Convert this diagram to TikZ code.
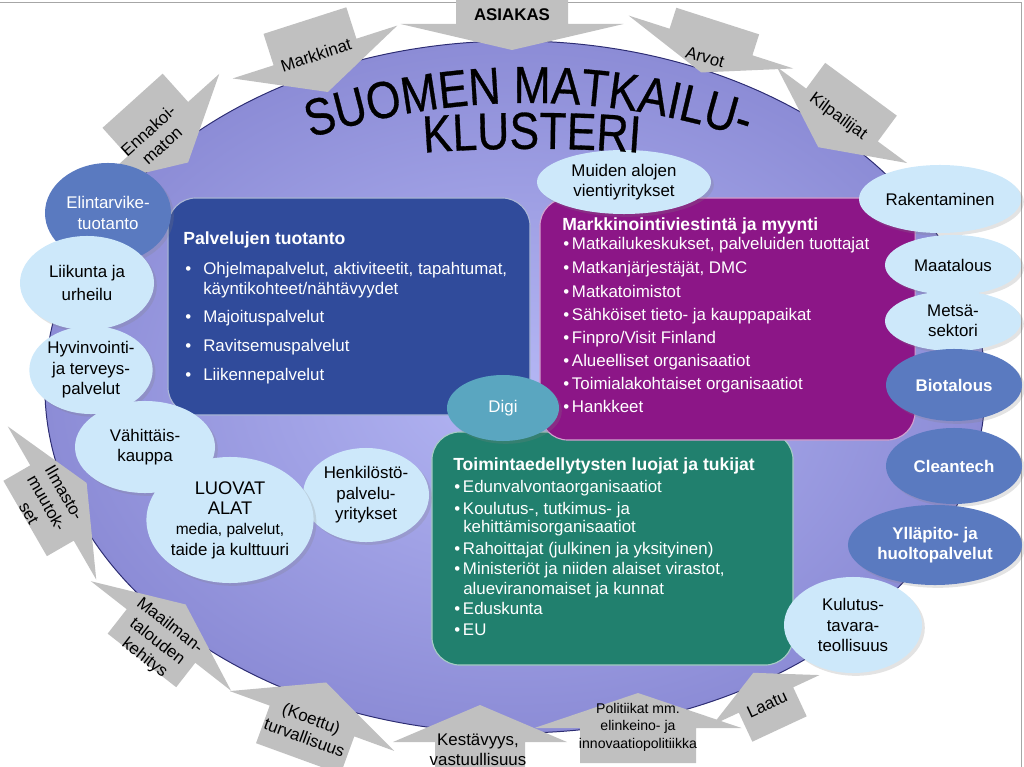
\documentclass[tikz,border=0pt]{standalone}
\usepackage{fontspec}
\setmainfont{Liberation Sans}
\newfontfamily\titlefont[FakeStretch=0.85,FakeBold=0.6]{Liberation Sans}
\usetikzlibrary{shapes.geometric,shadows,decorations.text}

\definecolor{ellIn}{RGB}{180,182,244}
\definecolor{ellOut}{RGB}{140,140,214}
\definecolor{ellLine}{RGB}{45,45,115}
\definecolor{arrGray}{RGB}{192,192,192}
\definecolor{lightBlue}{RGB}{205,232,250}
\definecolor{darkBlue}{RGB}{90,122,192}
\definecolor{digiCol}{RGB}{90,166,192}
\definecolor{prodCol}{RGB}{48,75,155}
\definecolor{markCol}{RGB}{140,22,135}
\definecolor{toimCol}{RGB}{33,128,110}

% grey block arrow: head base centre x, y, rotation, direction (1 down / -1 up),
% body width, body length, head width, head length
\newcommand{\grarrow}[8]{%
  \begin{scope}[shift={(#1,#2)},rotate=#3,yscale=#4]
    \fill[arrGray] (-#5/2,-#6) -- (-#5/2,0) -- (-#7/2,0) -- (0,#8)
      -- (#7/2,0) -- (#5/2,0) -- (#5/2,-#6) -- cycle;
  \end{scope}}

\begin{document}
\begin{tikzpicture}[x=0.025cm,y=-0.025cm,
  txt/.style={font=\fontsize{12}{14.5}\selectfont,align=center,inner sep=0pt},
  small/.style={font=\fontsize{10}{12.5}\selectfont,align=center,inner sep=0pt},
  item/.style={font=\fontsize{12}{14}\selectfont,text=white,anchor=west,inner sep=0pt,
    text height=1.5ex,text depth=.25ex},
  head/.style={item,font=\fontsize{12.5}{15}\selectfont\bfseries},
  box/.style={rectangle,rounded corners=0.7cm,draw=white!60!#1,line width=0.8pt,fill=#1},
  bubble/.style={ellipse,inner sep=0pt,txt,
    drop shadow={shadow xshift=2pt,shadow yshift=-2pt,opacity=0.22}},
  lcirc/.style={bubble,fill=lightBlue},
  dcirc/.style={bubble,fill=darkBlue,text=white,font=\fontsize{12}{14.5}\selectfont\bfseries}]

  \useasboundingbox (0,0) rectangle (1024,767);
  \clip (0,0) rectangle (1024,767);
  \draw[gray!70] (0,2) -- (1021,2) -- (1021,767);

  % the cluster
  \node[ellipse,draw=ellLine,line width=0.7pt,inner color=ellIn,outer color=ellOut,
        minimum width=23.5cm,minimum height=17.3cm] (cluster) at (515,387) {};

  % grey arrows round the cluster
  \grarrow{512}{24}{0}{1}{112}{26}{223}{26}
  \grarrow{315}{52}{17.8}{1}{87}{33}{173}{42}
  \grarrow{158}{129}{42}{1}{81}{38}{165}{45}
  \grarrow{711}{42}{-17.8}{1}{87}{22}{173}{32}
  \grarrow{842}{115}{-36.4}{1}{89}{32}{162}{40}
  \grarrow{52}{503}{-60}{-1}{87}{31}{177}{40}
  \grarrow{161}{636}{-38}{-1}{87}{31}{178}{40}
  \grarrow{312}{721}{-20}{-1}{90}{40}{175}{41}
  \grarrow{480}{742}{0}{-1}{90}{30}{174}{37}
  \grarrow{638}{728}{0}{-1}{116}{35}{207}{35}
  \grarrow{766}{700}{25}{-1}{60}{32}{118}{30}

  \node[txt,font=\fontsize{12}{14}\selectfont\bfseries] (tAsiakas) at (512,15) {ASIAKAS};
  \node[txt,rotate=18] (tMarkkinat) at (316,55) {Markkinat};
  \node[txt,rotate=42] (tEnnakoi) at (155,138) {Ennakoi-\\maton};
  \node[txt,rotate=-16] (tArvot) at (705,57) {Arvot};
  \node[txt,rotate=-36] (tKilpailijat) at (838,117) {Kilpailijat};
  \node[txt,rotate=-60] (tIlmasto) at (47,503) {Ilmasto-\\muutok-\\set};
  \node[txt,rotate=-38] (tMaailman) at (157,642) {Maailman-\\talouden\\kehitys};
  \node[txt,rotate=-20] (tKoettu) at (308,728) {(Koettu)\\turvallisuus};
  \node[txt] (tKestavyys) at (478,750) {Kestävyys,\\vastuullisuus};
  \node[small] (tPolitiikat) at (638,727) {Politiikat mm.\\elinkeino- ja\\innovaatiopolitiikka};
  \node[txt,rotate=25] (tLaatu) at (767,704) {Laatu};

  % boxes
  \node[box=prodCol,minimum width=9.05cm,minimum height=5.425cm] (prod) at (349,306.5) {};
  \node[box=toimCol,minimum width=9.025cm,minimum height=5.825cm] (toim) at (612.5,548.5) {};
  \node[box=markCol,minimum width=9.375cm,minimum height=6.05cm] (mark) at (727.5,319) {};

  \node[head] (prodHead) at (183,240) {Palvelujen tuotanto};
  \node[item] (prod1) at (185,270) {\makebox[12.8pt][l]{•}Ohjelmapalvelut, aktiviteetit, tapahtumat,};
  \node[item] (prod1b) at (203,290) {käyntikohteet/nähtävyydet};
  \node[item] (prod2) at (185,318) {\makebox[12.8pt][l]{•}Majoituspalvelut};
  \node[item] (prod3) at (185,347) {\makebox[12.8pt][l]{•}Ravitsemuspalvelut};
  \node[item] (prod4) at (185,376) {\makebox[12.8pt][l]{•}Liikennepalvelut};

  \node[head] (markHead) at (562,226) {Markkinointiviestintä ja myynti};
  \node[item] (mark1) at (563,245) {•\,Matkailukeskukset, palveluiden tuottajat};
  \node[item] (mark2) at (563,269) {•\,Matkanjärjestäjät, DMC};
  \node[item] (mark3) at (563,293) {•\,Matkatoimistot};
  \node[item] (mark4) at (563,316) {•\,Sähköiset tieto- ja kauppapaikat};
  \node[item] (mark5) at (563,339) {•\,Finpro/Visit Finland};
  \node[item] (mark6) at (563,362) {•\,Alueelliset organisaatiot};
  \node[item] (mark7) at (563,385) {•\,Toimialakohtaiset organisaatiot};
  \node[item] (mark8) at (563,408) {•\,Hankkeet};

  \node[head] (toimHead) at (453,466) {Toimintaedellytysten luojat ja tukijat};
  \node[item] (toim1) at (454,488) {•\,Edunvalvontaorganisaatiot};
  \node[item] (toim2) at (454,510) {•\,Koulutus-, tutkimus- ja};
  \node[item] (toim2b) at (463,528) {kehittämisorganisaatiot};
  \node[item] (toim3) at (454,550) {•\,Rahoittajat (julkinen ja yksityinen)};
  \node[item] (toim4) at (454,570) {•\,Ministeriöt ja niiden alaiset virastot,};
  \node[item] (toim4b) at (463,590) {alueviranomaiset ja kunnat};
  \node[item] (toim5) at (454,610) {•\,Eduskunta};
  \node[item] (toim6) at (454,631) {•\,EU};

  % bubbles on the left
  \node[dcirc,font=\fontsize{12}{14.5}\selectfont,minimum width=3.15cm,minimum height=2.5cm] (elin) at (108,213) {Elintarvike-\\tuotanto};
  \node[lcirc,minimum width=3.35cm,minimum height=2.35cm] (liik) at (87,283) {Liikunta ja\\[2pt]urheilu};
  \node[lcirc,minimum width=2.9cm,minimum height=2.2cm] (hyvi) at (91,370) {Hyvinvointi-\\ja terveys-\\palvelut};
  \node[lcirc,minimum width=3.5cm,minimum height=2.3cm] (vahi) at (145,447) {Vähittäis-\\kauppa};
  \node[lcirc,minimum width=3.15cm,minimum height=2.35cm] (henk) at (366,495) {Henkilöstö-\\palvelu-\\yritykset};
  \node[lcirc,minimum width=4cm,minimum height=3.15cm] (luov) at (230,520)
    {\fontsize{13}{14}\selectfont LUOVAT\\\fontsize{13}{14}\selectfont ALAT\\\fontsize{11}{13.5}\selectfont media, palvelut,\\taide ja kulttuuri};

  % bubbles on the right
  \node[lcirc,minimum width=4.35cm,minimum height=1.6cm] (muid) at (624,182) {Muiden alojen\\vientiyritykset};
  \node[lcirc,minimum width=4.05cm,minimum height=1.7cm] (rake) at (940,199) {Rakentaminen};
  \node[lcirc,minimum width=3.4cm,minimum height=1.5cm] (maat) at (953,265) {Maatalous};
  \node[lcirc,minimum width=3.4cm,minimum height=1.5cm] (mets) at (953,321) {Metsä-\\sektori};
  \node[dcirc,minimum width=3.4cm,minimum height=1.8cm] (biot) at (954,385) {Biotalous};
  \node[dcirc,minimum width=3.4cm,minimum height=1.9cm] (clea) at (954,466) {Cleantech};
  \node[dcirc,minimum width=4.35cm,minimum height=2cm] (yllp) at (935,545) {Ylläpito- ja\\huoltopalvelut};
  \node[lcirc,minimum width=3.45cm,minimum height=2.4cm] (kulu) at (853,625) {Kulutus-\\tavara-\\teollisuus};
  \node[bubble,fill=digiCol,text=white,minimum width=2.8cm,minimum height=1.65cm] (digi) at (503,408) {Digi};

  % title
  \path[decorate,decoration={text along path,text align=center,
      text={|\titlefont\fontsize{37}{37}\selectfont|SUOMEN MATKAILU-}}]
    (280,149) arc[start angle=-111,end angle=-69,radius=693];
  \path[decorate,decoration={text along path,text align=center,
      text={|\titlefont\fontsize{37}{37}\selectfont|KLUSTERI}}]
    (375,157) arc[start angle=-96,end angle=-84,radius=1500];

\end{tikzpicture}
\end{document}
